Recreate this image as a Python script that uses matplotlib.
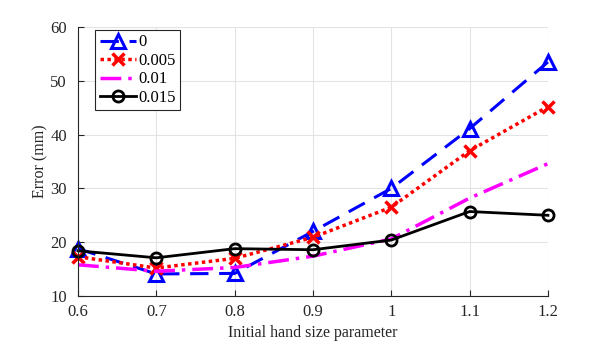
import matplotlib.pyplot as plt
import numpy as np

plt.rcParams["font.family"] = ["Liberation Serif", "DejaVu Serif"]

x = [0.6, 0.7, 0.8, 0.9, 1.0, 1.1, 1.2]
err_0 = [18.8, 14.1, 14.2, 22.0, 30.0, 41.1, 53.5]
err_005 = [17.3, 15.2, 17.0, 20.9, 26.5, 37.0, 45.2]
err_01 = [15.8, 14.6, 15.3, 17.4, 20.6, 28.2, 34.6]
err_015 = [18.4, 17.1, 18.8, 18.6, 20.4, 25.7, 25.0]
labels = ["0", "0.005", "0.01", "0.015"]

fig = plt.figure(figsize=(6.06, 3.46), dpi=100)
ax = fig.add_axes([0.1287, 0.1445, 0.7755, 0.7775])

ax.plot(x, err_0, color="#0000ff", linestyle=(0, (6, 3.5)), linewidth=2.2,
        marker="^", markersize=9.5, markerfacecolor="none", markeredgewidth=2.2,
        label=labels[0], clip_on=False)
ax.plot(x, err_005, color="#ff0000", linestyle=(0, (1, 1)), linewidth=2.5,
        marker="x", markersize=9, markeredgewidth=2.5, label=labels[1], clip_on=False)
ax.plot(x, err_01, color="#ff00ff", linestyle=(0, (6, 2, 1, 2)), linewidth=2.5,
        label=labels[2], clip_on=False)
ax.plot(x, err_015, color="black", linestyle="-", linewidth=2,
        marker="o", markersize=8, markerfacecolor="none", markeredgewidth=2,
        label=labels[3], clip_on=False)

ax.set_xlim(0.6, 1.2)
ax.set_ylim(10, 60)
ax.set_xticks(x)
ax.set_xticklabels(["0.6", "0.7", "0.8", "0.9", "1", "1.1", "1.2"])
ax.set_yticks([10, 20, 30, 40, 50, 60])
ax.grid(True, color="#e3e3e3", linewidth=0.8)
ax.set_axisbelow(True)
for side in ["top", "right"]:
    ax.spines[side].set_visible(False)
for side in ["left", "bottom"]:
    ax.spines[side].set_color("#262626")
    ax.spines[side].set_linewidth(0.8)
ax.tick_params(direction="in", length=4, labelsize=12, colors="#262626")
ax.tick_params(axis="x", pad=6)
ax.tick_params(axis="y", pad=8)
ax.set_xlabel("Initial hand size parameter", fontsize=11.5, color="#262626", labelpad=3)
ax.set_ylabel("Error (mm)", fontsize=11.5, color="#262626", labelpad=1)

leg = ax.legend(loc="upper left", bbox_to_anchor=(0.03, 1.0), fontsize=12,
                frameon=True, fancybox=False, framealpha=1, edgecolor="#262626",
                handlelength=2.2, handletextpad=0.1, labelspacing=0.15, borderpad=0.25,
                borderaxespad=0.2)
leg.get_frame().set_linewidth(0.8)

fig.savefig("out.png", dpi=100)
